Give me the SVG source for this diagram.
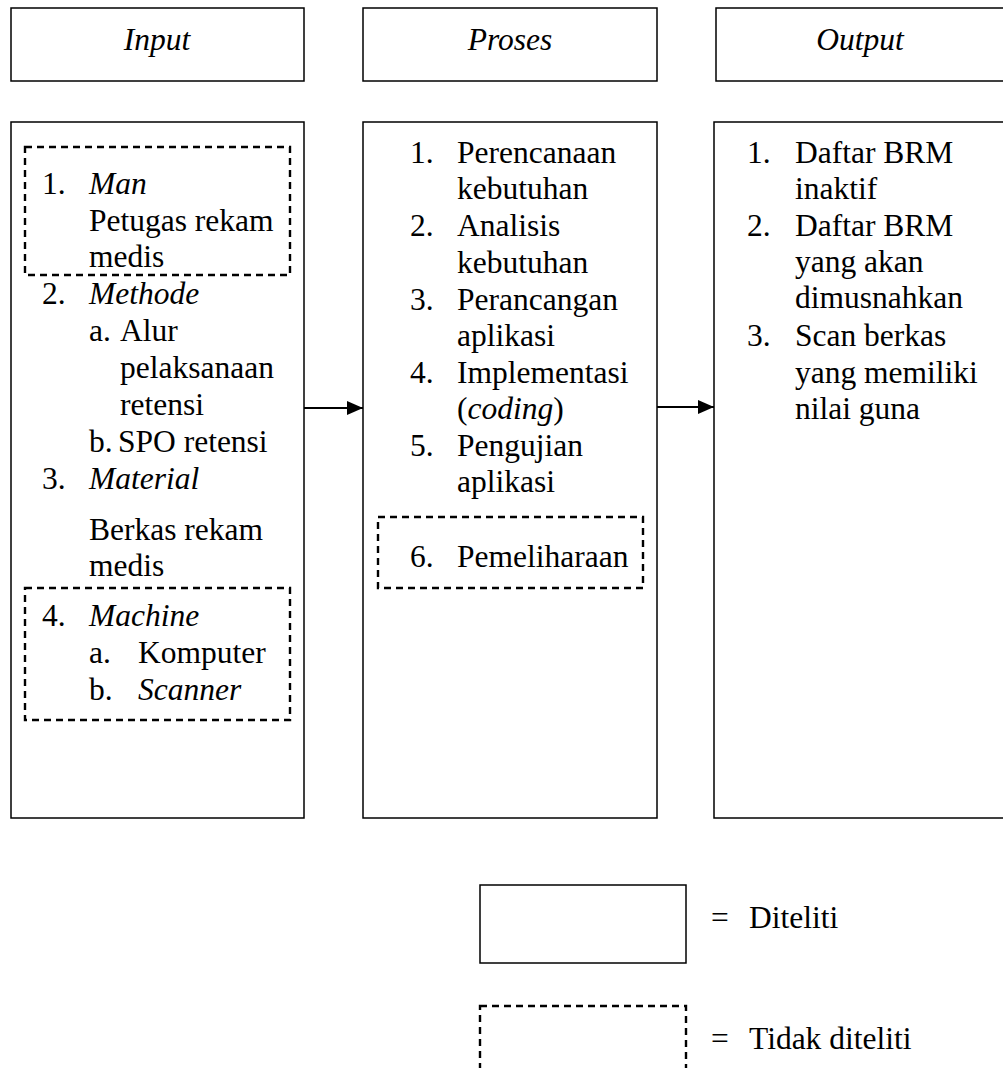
<svg xmlns="http://www.w3.org/2000/svg" width="1003" height="1068" viewBox="0 0 1003 1068">
<defs>
<style>
.box{fill:none;stroke:#000;stroke-width:1.5}
.dash{fill:none;stroke:#000;stroke-width:2.4;stroke-dasharray:7 5}
text{font-family:"Liberation Serif","Times New Roman",serif;font-size:31.5px;fill:#000}
.i{font-style:italic}
.c{text-anchor:middle}
.conn{stroke:#000;stroke-width:1.8;fill:none}
</style>
<marker id="ah" markerWidth="16" markerHeight="14" refX="16" refY="7" orient="auto" markerUnits="userSpaceOnUse">
<path d="M0,0 L16,7 L0,14 Z" fill="#000"/>
</marker>
</defs>
<rect width="1003" height="1068" fill="#fff"/>

<g id="head-input"><rect class="box" x="11" y="8" width="293" height="73"/><text class="i c" x="157" y="50">Input</text></g>
<g id="head-proses"><rect class="box" x="363" y="8" width="294" height="73"/><text class="i c" x="510" y="50">Proses</text></g>
<g id="head-output"><rect class="box" x="716" y="8" width="300" height="73"/><text class="i c" x="860" y="50">Output</text></g>

<g id="input">
<rect class="box" x="11" y="122" width="293" height="696"/>
<rect class="dash" x="25" y="147" width="265" height="128"/>
<text x="42" y="194">1.</text><text class="i" x="89" y="194">Man</text>
<text x="89" y="231">Petugas rekam</text>
<text x="89" y="267">medis</text>
<text x="42" y="304">2.</text><text class="i" x="89" y="304">Methode</text>
<text x="89" y="341">a.</text><text x="120" y="341">Alur</text>
<text x="120" y="378">pelaksanaan</text>
<text x="120" y="415">retensi</text>
<text x="89" y="452">b.</text><text x="118" y="452">SPO retensi</text>
<text x="42" y="489">3.</text><text class="i" x="89" y="489">Material</text>
<text x="89" y="540">Berkas rekam</text>
<text x="89" y="576">medis</text>
<rect class="dash" x="25" y="588" width="265" height="132"/>
<text x="42" y="626">4.</text><text class="i" x="89" y="626">Machine</text>
<text x="89" y="663">a.</text><text x="138" y="663">Komputer</text>
<text x="89" y="700">b.</text><text class="i" x="138" y="700">Scanner</text>
</g>

<g id="proses">
<rect class="box" x="363" y="122" width="294" height="696"/>
<text x="410" y="163">1.</text><text x="457" y="163">Perencanaan</text>
<text x="457" y="199">kebutuhan</text>
<text x="410" y="236">2.</text><text x="457" y="236">Analisis</text>
<text x="457" y="273">kebutuhan</text>
<text x="410" y="310">3.</text><text x="457" y="310">Perancangan</text>
<text x="457" y="346">aplikasi</text>
<text x="410" y="383">4.</text><text x="457" y="383">Implementasi</text>
<text x="457" y="419">(<tspan class="i">coding</tspan>)</text>
<text x="410" y="456">5.</text><text x="457" y="456">Pengujian</text>
<text x="457" y="492">aplikasi</text>
<rect class="dash" x="378" y="517" width="265" height="71"/>
<text x="410" y="567">6.</text><text x="457" y="567">Pemeliharaan</text>
</g>

<g id="output">
<rect class="box" x="714" y="122" width="300" height="696"/>
<text x="747" y="163">1.</text><text x="795" y="163">Daftar BRM</text>
<text x="795" y="199">inaktif</text>
<text x="747" y="236">2.</text><text x="795" y="236">Daftar BRM</text>
<text x="795" y="272">yang akan</text>
<text x="795" y="308">dimusnahkan</text>
<text x="747" y="346">3.</text><text x="795" y="346">Scan berkas</text>
<text x="795" y="383">yang memiliki</text>
<text x="795" y="419">nilai guna</text>
</g>

<g id="connectors">
<line class="conn" x1="304" y1="408" x2="363" y2="408" marker-end="url(#ah)"/>
<line class="conn" x1="657" y1="407" x2="714" y2="407" marker-end="url(#ah)"/>
</g>

<g id="legend-diteliti">
<rect class="box" x="480" y="885" width="206" height="78"/>
<text x="711" y="928">=</text><text x="749" y="928">Diteliti</text>
</g>
<g id="legend-tidak">
<rect class="dash" x="480" y="1006" width="206" height="90"/>
<text x="711" y="1049">=</text><text x="749" y="1049">Tidak diteliti</text>
</g>
</svg>
